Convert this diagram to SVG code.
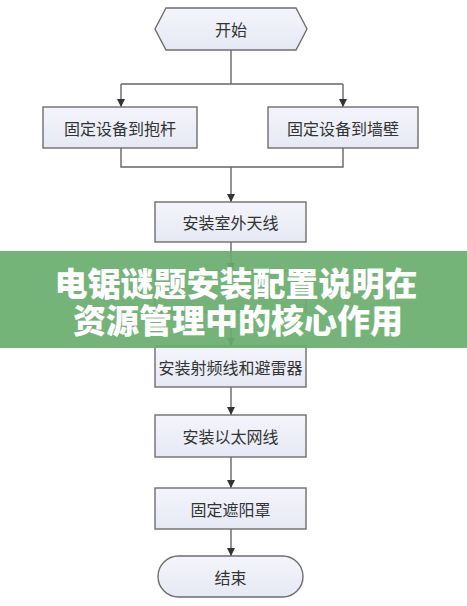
<svg xmlns="http://www.w3.org/2000/svg" width="467" height="606" viewBox="0 0 467 606">
<defs>
<linearGradient id="g" x1="0" y1="0" x2="0" y2="1">
<stop offset="0" stop-color="#f4f5fb"/>
<stop offset="1" stop-color="#e6e8f4"/>
</linearGradient>
<marker id="arr" viewBox="0 0 8 10" refX="8" refY="5" markerWidth="8" markerHeight="10" markerUnits="userSpaceOnUse" orient="auto">
<path d="M0,1 L8,5 L0,9 Z" fill="#333"/>
</marker>
<style>
.n{fill:url(#g);stroke:#6e6e6e;stroke-width:1.4}
.t{font-family:"Noto Sans CJK SC","Noto Sans",sans-serif;font-size:16px;fill:#333;text-anchor:middle;dominant-baseline:central}
.c{fill:none;stroke:#666;stroke-width:1.4}
.a{marker-end:url(#arr)}
.b{font-family:"Noto Sans CJK SC","Noto Sans",sans-serif;font-size:33px;font-weight:900;fill:#fff;text-anchor:middle}
</style>
</defs>
<rect width="467" height="606" fill="#fff"/>
<g id="connectors">
<path class="c" d="M231,50 V84"/>
<path class="c" d="M121,84 H343"/>
<path class="c a" d="M121,84 V107"/>
<path class="c a" d="M343,84 V107"/>
<path class="c" d="M121,148 V167 H343 V148"/>
<path class="c a" d="M231,167 V202"/>
<path class="c a" d="M231,242 V271"/>
<path class="c a" d="M231,312 V346"/>
<path class="c a" d="M231,387 V415"/>
<path class="c a" d="M231,457 V488"/>
<path class="c a" d="M231,529 V556"/>
</g>
<g id="start">
<polygon class="n" points="155,29 166,8 296,8 307,29 296,50 166,50"/>
<text class="t" x="231" y="29">开始</text>
</g>
<g id="pole">
<rect class="n" x="43" y="107" width="154" height="41"/>
<text class="t" x="120" y="127.5">固定设备到抱杆</text>
</g>
<g id="wall">
<rect class="n" x="268" y="107" width="150" height="41"/>
<text class="t" x="343" y="127.5">固定设备到墙壁</text>
</g>
<g id="antenna">
<rect class="n" x="155" y="202" width="151" height="40"/>
<text class="t" x="230.5" y="222">安装室外天线</text>
</g>
<g id="hidden">
<rect class="n" x="155" y="271" width="151" height="41"/>
</g>
<g id="rf">
<rect class="n" x="155" y="346" width="151" height="41"/>
<text class="t" x="230.5" y="366.5">安装射频线和避雷器</text>
</g>
<g id="ethernet">
<rect class="n" x="155" y="415" width="151" height="42"/>
<text class="t" x="230.5" y="436">安装以太网线</text>
</g>
<g id="shield">
<rect class="n" x="155" y="488" width="151" height="41"/>
<text class="t" x="230.5" y="508.5">固定遮阳罩</text>
</g>
<g id="end">
<rect class="n" x="158" y="556" width="145" height="41" rx="20.5" ry="20.5"/>
<text class="t" x="230.5" y="576.5">结束</text>
</g>
<g id="banner">
<rect x="0" y="251" width="467" height="97" fill="#6aae6e" fill-opacity="0.93"/>
<text class="b"><tspan x="236" y="296">电锯谜题安装配置说明在</tspan><tspan x="238" y="333">资源管理中的核心作用</tspan></text>
</g>
</svg>
